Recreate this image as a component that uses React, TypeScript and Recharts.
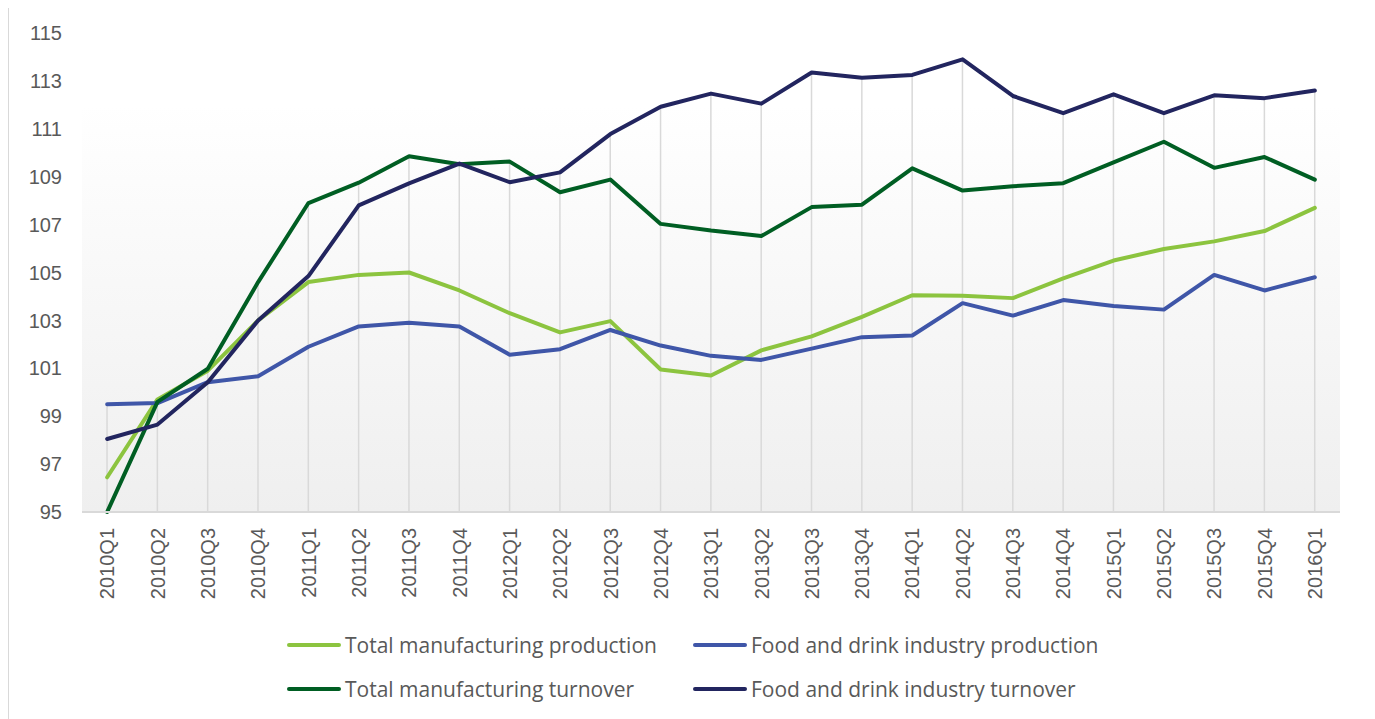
import { ComposedChart, Line, Bar, XAxis, YAxis, CartesianGrid, Legend } from 'recharts';

const quarters = [
    '2010Q1', '2010Q2', '2010Q3', '2010Q4',
    '2011Q1', '2011Q2', '2011Q3', '2011Q4',
    '2012Q1', '2012Q2', '2012Q3', '2012Q4',
    '2013Q1', '2013Q2', '2013Q3', '2013Q4',
    '2014Q1', '2014Q2', '2014Q3', '2014Q4',
    '2015Q1', '2015Q2', '2015Q3', '2015Q4',
    '2016Q1',
];

const totalProduction = [
    96.45, 99.7, 100.9, 103.0, 104.6, 104.9, 105.0, 104.25, 103.3, 102.5, 102.97, 100.95,
    100.7, 101.75, 102.33, 103.15, 104.05, 104.03, 103.93, 104.75, 105.5, 105.98, 106.3, 106.73, 107.7,
];

const foodProduction = [
    99.5, 99.55, 100.42, 100.67, 101.9, 102.75, 102.9, 102.75, 101.57, 101.8, 102.6, 101.95,
    101.52, 101.35, 101.82, 102.3, 102.37, 103.72, 103.2, 103.85, 103.6, 103.45, 104.9, 104.25, 104.8,
];

const totalTurnover = [
    95.0, 99.6, 100.98, 104.6, 107.9, 108.75, 109.85, 109.52, 109.63, 108.35, 108.88, 107.03,
    106.75, 106.52, 107.73, 107.83, 109.35, 108.42, 108.6, 108.73, 109.6, 110.46, 109.37, 109.82, 108.88,
];

const foodTurnover = [
    98.05, 98.65, 100.42, 103.0, 104.85, 107.8, 108.72, 109.55, 108.77, 109.18, 110.78, 111.92,
    112.47, 112.05, 113.35, 113.13, 113.25, 113.9, 112.37, 111.65, 112.44, 111.65, 112.4, 112.28, 112.6,
];

const yTicks = [95, 97, 99, 101, 103, 105, 107, 109, 111, 113, 115];

const SERIES = [
    { key: 'totalProduction', name: 'Total manufacturing production', color: '#8cc43f' },
    { key: 'foodProduction', name: 'Food and drink industry production', color: '#3f56a8' },
    { key: 'totalTurnover', name: 'Total manufacturing turnover', color: '#005e23' },
    { key: 'foodTurnover', name: 'Food and drink industry turnover', color: '#22255f' },
];

const data = quarters.map((q, i) => ({
    quarter: q,
    totalProduction: totalProduction[i],
    foodProduction: foodProduction[i],
    totalTurnover: totalTurnover[i],
    foodTurnover: foodTurnover[i],
    // drop line from the highest point down to the axis
    top: Math.max(totalProduction[i], foodProduction[i], totalTurnover[i], foodTurnover[i]),
}));

const TEXT = '#595959';

function QuarterTick({ x, y, payload }: any) {
    return (
        <g transform={`translate(${x},${y})`}>
            <text
                transform="rotate(-90)"
                x={0}
                y={0}
                dy="0.36em"
                textAnchor="end"
                fill={TEXT}
                fontSize={20}
                fontFamily="'Liberation Sans', Arial, sans-serif"
            >
                {payload.value}
            </text>
        </g>
    );
}

function DropLine({ x, y, width, height }: any) {
    const cx = x + width / 2;
    return <line x1={cx} x2={cx} y1={y} y2={y + height} stroke="#d9d9d9" strokeWidth={1.5} />;
}

function LegendBox() {
    const cols = [278, 684];
    const rows = [20, 64];
    return (
        <div style={{ position: 'relative', width: 1360, height: 90 }}>
            {SERIES.map((s, i) => (
                <div
                    key={s.key}
                    style={{
                        position: 'absolute',
                        left: cols[i % 2],
                        top: rows[Math.floor(i / 2)] - 15,
                        height: 30,
                        display: 'flex',
                        alignItems: 'center',
                        whiteSpace: 'nowrap',
                    }}
                >
                    <span style={{ display: 'inline-block', width: 54, height: 4, borderRadius: 2, background: s.color, marginRight: 4 }} />
                    <span style={{ fontFamily: "'Open Sans', sans-serif", fontSize: 21, color: TEXT, lineHeight: '30px' }}>{s.name}</span>
                </div>
            ))}
        </div>
    );
}

export default function App() {
    return (
        <div style={{ marginTop: -4, width: 1360, height: 720, border: '1px solid #d9d9d9', background: '#fff' }}>
            <ComposedChart width={1360} height={720} data={data} margin={{ top: 28, right: 29, bottom: 0, left: 0 }}>
                <defs>
                    <linearGradient id="plotBg" x1="0" y1="0" x2="0" y2="1">
                        <stop offset="0%" stopColor="#ffffff" />
                        <stop offset="15%" stopColor="#ffffff" />
                        <stop offset="100%" stopColor="#efefef" />
                    </linearGradient>
                </defs>
                <CartesianGrid horizontal={false} vertical={false} fill="url(#plotBg)" stroke="none" />
                <XAxis
                    dataKey="quarter"
                    interval={0}
                    height={213}
                    tickLine={false}
                    tickSize={0}
                    tickMargin={16}
                    axisLine={{ stroke: '#d9d9d9', strokeWidth: 2 }}
                    tick={<QuarterTick />}
                />
                <YAxis
                    domain={[95, 115]}
                    ticks={yTicks}
                    width={73}
                    tickLine={false}
                    tickSize={0}
                    tickMargin={20}
                    axisLine={false}
                    tick={{ fill: TEXT, fontSize: 20, fontFamily: "'Liberation Sans', Arial, sans-serif" }}
                />
                <Bar dataKey="top" shape={<DropLine />} isAnimationActive={false} legendType="none" />
                {SERIES.map((s) => (
                    <Line
                        key={s.key}
                        type="linear"
                        dataKey={s.key}
                        name={s.name}
                        stroke={s.color}
                        strokeWidth={4}
                        strokeLinejoin="round"
                        strokeLinecap="round"
                        dot={false}
                        activeDot={false}
                        isAnimationActive={false}
                    />
                ))}
                <Legend verticalAlign="middle" wrapperStyle={{ top: 620, left: 0, width: 1360 }} content={() => <LegendBox />} />
            </ComposedChart>
        </div>
    );
}
